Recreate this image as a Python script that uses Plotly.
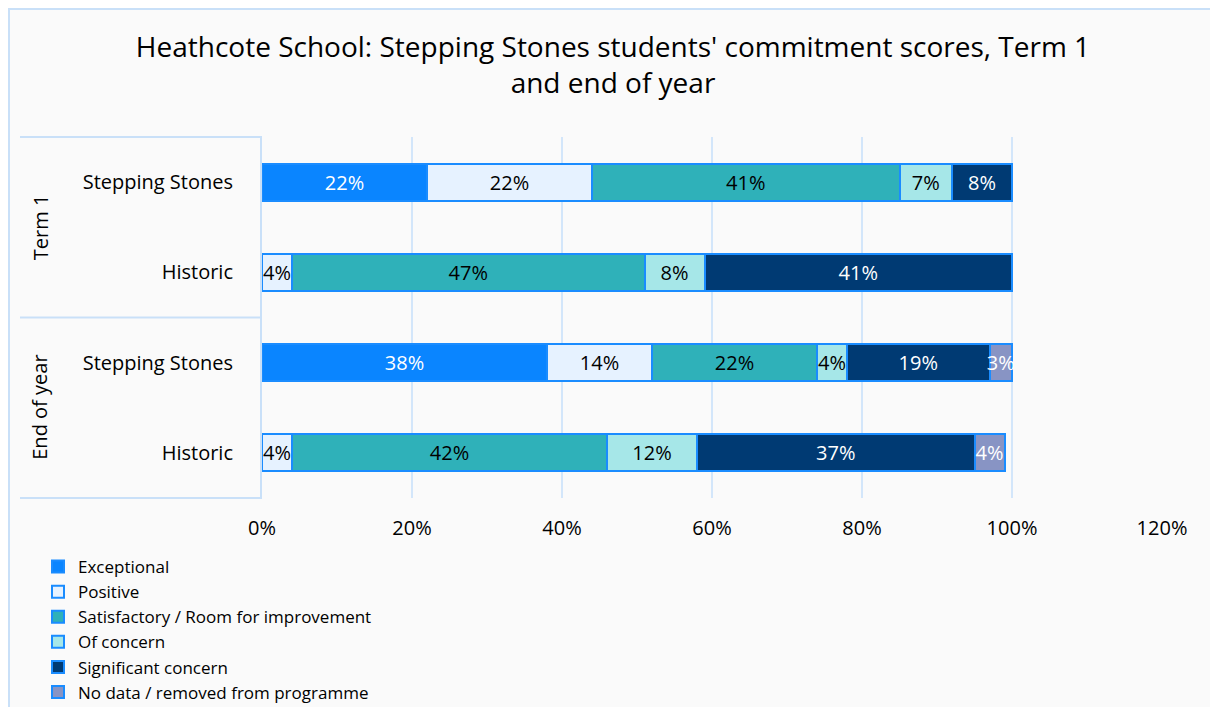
import plotly.graph_objects as go

# ---- data ----
groups = ["Term 1", "Term 1", "End of year", "End of year"]
cohorts = ["Stepping Stones", "Historic", "Stepping Stones", "Historic"]
series_names = ["Exceptional", "Positive", "Satisfactory / Room for improvement",
                "Of concern", "Significant concern", "No data / removed from programme"]
exceptional = [22, None, 38, None]
positive = [22, 4, 14, 4]
satisfactory = [41, 47, 22, 42]
of_concern = [7, 8, 4, 12]
significant = [8, 41, 19, 37]
no_data = [None, None, 3, 4]
x_ticks = [0, 20, 40, 60, 80, 100, 120]
title_text = "Heathcote School: Stepping Stones students' commitment scores, Term 1<br>and end of year"

series_values = [exceptional, positive, satisfactory, of_concern, significant, no_data]
colors = ["#0A85FF", "#E6F2FF", "#2FB1B9", "#A6E7E8", "#003A73", "#8894C4"]
text_colors = ["white", "black", "black", "black", "white", "white"]

# page has an 8px body margin: work in figure coordinates
OFF = 8
W, H = 1218 - OFF, 707 - OFF
L, R, T, B = 254, 56, 129, 209
PW, PH = W - L - R, H - T - B
FONT = "Open Sans"
LINE = "#C9E0F8"


def px_x(px):
    return (px - L) / PW


def px_y(py):
    return (H - B - py) / PH


cat_keys = [f"{g}|{c}" for g, c in zip(groups, cohorts)]

fig = go.Figure()
for name, vals, col, tcol in zip(series_names, series_values, colors, text_colors):
    fig.add_trace(go.Bar(
        y=cat_keys, x=vals, name=name, orientation="h",
        marker=dict(color=col, line=dict(color="#1A8CFF", width=2)),
        text=[f"{v}%" if v else "" for v in vals],
        textposition="inside", insidetextanchor="middle", textangle=0,
        constraintext="none", cliponaxis=False,
        textfont=dict(family=FONT, size=20, color=tcol),
        hoverinfo="skip",
    ))

shapes = [
    # outer frame
    dict(type="rect", xref="paper", yref="paper", x0=px_x(1), x1=px_x(1208),
         y0=px_y(730), y1=px_y(1), line=dict(color=LINE, width=2), layer="below"),
    # group separators
    dict(type="line", xref="paper", yref="paper", x0=px_x(12), x1=0, y0=1, y1=1,
         line=dict(color=LINE, width=2)),
    dict(type="line", xref="paper", yref="y", x0=px_x(12), x1=0, y0=1.5, y1=1.5,
         line=dict(color=LINE, width=2)),
    dict(type="line", xref="paper", yref="paper", x0=px_x(12), x1=0, y0=0, y1=0,
         line=dict(color=LINE, width=2)),
]

annotations = []
for i, g in enumerate(["Term 1", "End of year"]):
    annotations.append(dict(
        text=g, xref="paper", yref="y", x=px_x(32), y=0.5 + 2 * i,
        textangle=-90, showarrow=False, font=dict(family=FONT, size=20, color="black"),
        xanchor="center", yanchor="middle"))

fig.update_layout(
    width=W, height=H,
    margin=dict(l=L, r=R, t=T, b=B, autoexpand=False),
    paper_bgcolor="#FAFAFA", plot_bgcolor="#FAFAFA",
    barmode="stack", bargap=0.59,
    font=dict(family=FONT, color="black"),
    title=dict(text=title_text, x=0.5, xanchor="center", xref="container",
               y=1 - 49 / H, yanchor="top", yref="container",
               font=dict(family=FONT, size=28, color="black")),
    xaxis=dict(range=[0, 120], tickvals=x_ticks, ticktext=[f"{v}%" for v in x_ticks],
               showgrid=True, gridcolor="#D3E6FA", gridwidth=2, zeroline=False,
               showline=False, tickfont=dict(family=FONT, size=20, color="black"),
               ticks="", ticklabelstandoff=16, automargin=False),
    yaxis=dict(type="category", autorange="reversed", categoryorder="array",
               categoryarray=cat_keys, tickvals=cat_keys, ticktext=cohorts,
               showgrid=False, showline=True, linecolor=LINE, linewidth=2,
               tickfont=dict(family=FONT, size=20, color="black"),
               ticks="", ticklabelstandoff=23, automargin=False),
    showlegend=True,
    legend=dict(xref="container", yref="container", x=30 / W, y=1 - 541 / H,
                xanchor="left", yanchor="top", traceorder="normal",
                font=dict(family=FONT, size=17, color="black"),
                bgcolor="rgba(0,0,0,0)", tracegroupgap=0, itemwidth=30),
    shapes=shapes, annotations=annotations,
)

fig.write_html("out.html")
